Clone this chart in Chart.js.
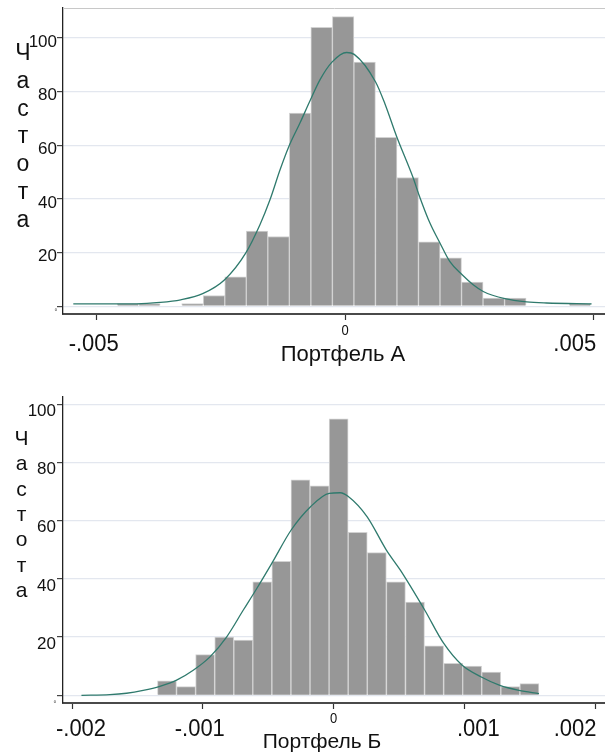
<!DOCTYPE html>
<html>
<head>
<meta charset="utf-8">
<script src="https://cdn.jsdelivr.net/npm/chart.js@4.4.0/dist/chart.umd.min.js"></script>
<style>
  html, body { margin: 0; padding: 0; background: #fff; }
  #wrap { position: relative; width: 605px; height: 753px; }
  #chartA { position: absolute; left: 0; top: 0; }
  #chartB { position: absolute; left: 0; top: 376px; }
</style>
</head>
<body>
<div id="wrap">
  <canvas id="chartA" width="605" height="376"></canvas>
  <canvas id="chartB" width="605" height="377"></canvas>
</div>
<script>
// Портфель А - bin centres and counts
const binsA = [-0.004372, -0.003939, -0.003506, -0.003073, -0.002640, -0.002207,
  -0.001774, -0.001341, -0.000908, -0.000475, -0.000042, 0.000391, 0.000824,
  0.001257, 0.001690, 0.002123, 0.002556, 0.002989, 0.003422, 0.003855,
  0.004288, 0.004721];
const countsA = [1, 1, 0, 1, 4, 11, 28, 26, 72, 104, 108, 91, 63, 48, 24, 18, 9, 3, 3, 0, 0, 1];
// normal curve
const curveXA = [-0.005471, -0.004733, -0.004196, -0.003727, -0.003311, -0.002868,
  -0.002426, -0.002003, -0.001716, -0.001514, -0.001313, -0.001138, -0.000911,
  -0.000704, -0.000509, -0.000267, 0.000028, 0.000181, 0.000611, 0.000798,
  0.001034, 0.001368, 0.001482, 0.001704, 0.001905, 0.002106, 0.002347,
  0.002574, 0.002776, 0.003212, 0.003648, 0.004051, 0.004956];
const curveYA = [0.9, 0.9, 0.9, 1.4, 2.4, 4.7, 9.9, 19.8, 30.4, 39.7, 50.8, 59.4, 68.3,
  76.8, 84.4, 91.0, 94.6, 93.9, 83.6, 75.5, 63.3, 47.8, 41.6, 31.0, 23.6, 16.6, 11.8,
  8.0, 5.5, 2.8, 1.6, 1.2, 0.9];
const xTicksA = [-0.005, 0, 0.005];
const xLabelsA = ['-.005', '0', '.005'];

// Портфель Б
const binsB = [-0.001274, -0.001128, -0.000982, -0.000836, -0.000690, -0.000545,
  -0.000399, -0.000253, -0.000107, 0.000039, 0.000185, 0.000331, 0.000477,
  0.000623, 0.000769, 0.000915, 0.001060, 0.001206, 0.001352, 0.001498];
const countsB = [5, 3, 14, 20, 19, 39, 46, 74, 72, 95, 56, 49, 39, 32, 17, 11, 10, 8, 3, 4];
const curveXB = [-0.001928, -0.001711, -0.001583, -0.001456, -0.001328, -0.001200,
  -0.001073, -0.000945, -0.000817, -0.000690, -0.000587, -0.000470, -0.000324,
  -0.000176, -0.000033, 0.000051, 0.000113, 0.000256, 0.000404, 0.000511,
  0.000697, 0.000843, 0.000984, 0.001130, 0.001272, 0.001418, 0.001571];
const curveYB = [0, 0.2, 0.7, 1.7, 3.1, 5.2, 8.6, 13.2, 20.1, 29.3, 36.7, 45.5, 56.8,
  64.8, 69.4, 69.6, 68.3, 61.4, 49.9, 43.0, 29.3, 17.8, 10.3, 6.3, 3.4, 1.7, 0.6];
const xTicksB = [-0.002, -0.001, 0, 0.001, 0.002];
const xLabelsB = ['-.002', '-.001', '0', '.001', '.002'];

const yTicks = [0, 20, 40, 60, 80, 100];
const yTitle = 'Частота';

const FONT = "'Liberation Sans', Arial, sans-serif";
const BAR_FILL = '#979797';
const BAR_EDGE = '#d2d2d2';
const CURVE = '#2f7a6d';

// draws x tick labels, x title and the stacked y title
function textPlugin(cfg) {
  return {
    id: 'text' + cfg.id,
    afterDraw(chart) {
      const ctx = chart.ctx;
      const xs = chart.scales.x;
      ctx.save();
      ctx.fillStyle = '#111';
      ctx.textAlign = 'center';
      ctx.textBaseline = 'alphabetic';
      cfg.ticks.forEach((v, i) => {
        const zero = cfg.labels[i] === '0';
        ctx.save();
        ctx.translate(xs.getPixelForValue(v) + cfg.dx[i], zero ? cfg.zeroBase : cfg.tickBase);
        ctx.scale(1, 1.12);  // tick text in the picture is a bit taller than wide
        ctx.font = (zero ? 13 : cfg.tickSize) + 'px ' + FONT;
        ctx.fillText(cfg.labels[i], 0, 0);
        ctx.restore();
      });
      ctx.font = cfg.titleSize + 'px ' + FONT;
      ctx.fillText(cfg.title, cfg.titleX, cfg.titleBase);
      ctx.font = cfg.ySize + 'px ' + FONT;
      Array.from(yTitle).forEach((ch, i) => {
        ctx.fillText(ch, cfg.yX, cfg.yBase + i * cfg.yStep);
      });
      ctx.restore();
    }
  };
}

function makeChart(el, o) {
  const scales = {
    x: {
      type: 'linear',
      offset: false,
      min: o.xMin, max: o.xMax,
      afterBuildTicks: s => { s.ticks = o.xTicks.map(v => ({ value: v })); },
      afterFit: s => { s.height = o.xHeight; s.paddingLeft = 0; s.paddingRight = 0; },
      ticks: { display: false },
      grid: { offset: false, drawOnChartArea: false, drawTicks: true, tickLength: 6, tickColor: '#333', tickWidth: 1.2 },
      border: { color: '#4a4a4a', width: 2 }
    },
    y: {
      min: o.yMin, max: o.yMax,
      afterBuildTicks: s => { s.ticks = yTicks.map(v => ({ value: v })); },
      afterFit: s => { s.width = 63; s.paddingTop = 0; s.paddingBottom = 0; },
      ticks: {
        color: '#111',
        padding: o.yPad,
        labelOffset: o.yLabelOffset,
        font: c => ({ family: FONT, size: c.tick && c.tick.value === 0 ? 4 : 17 })
      },
      grid: { color: '#e3e7ef', lineWidth: 1.2, tickColor: '#444', tickLength: 6 },
      border: { color: '#222', width: 1.3 }
    }
  };
  if (o.topBorder) {
    scales.x2 = {
      type: 'linear', position: 'top', offset: false,
      min: o.xMin, max: o.xMax,
      ticks: { display: false },
      grid: { offset: false, drawOnChartArea: false, drawTicks: false },
      border: { color: '#c8c8c8', width: 1 }
    };
  }
  return new Chart(el, {
    type: 'bar',
    data: {
      datasets: [{
        type: 'line',
        data: o.curveX.map((x, i) => ({ x: x, y: o.curveY[i] })),
        borderColor: CURVE,
        borderWidth: 1.3,
        pointRadius: 0,
        cubicInterpolationMode: 'monotone',
        order: 0
      }, {
        type: 'bar',
        data: o.bins.map((x, i) => ({ x: x, y: o.counts[i] })),
        backgroundColor: BAR_FILL,
        borderColor: BAR_EDGE,
        borderWidth: 1,
        barPercentage: 1,
        categoryPercentage: 1,
        order: 1
      }]
    },
    options: {
      responsive: false,
      animation: false,
      layout: { padding: { top: o.padTop, left: 0, right: 0, bottom: 0 } },
      plugins: { legend: { display: false }, tooltip: { enabled: false } },
      scales: scales
    },
    plugins: [o.text]
  });
}

makeChart(document.getElementById('chartA'), {
  bins: binsA, counts: countsA, curveX: curveXA, curveY: curveYA,
  xTicks: xTicksA,
  xMin: -0.005678, xMax: 0.005226,
  yMin: -2.9, yMax: 111.2,
  padTop: 8, xHeight: 62, yPad: 0, yLabelOffset: 4,
  topBorder: true,
  text: textPlugin({
    id: 'A', ticks: xTicksA, labels: xLabelsA, dx: [-3, 0, -19],
    tickSize: 22, tickBase: 351, zeroBase: 335,
    title: 'Портфель А', titleSize: 22, titleX: 343, titleBase: 361,
    ySize: 23, yX: 23, yBase: 60, yStep: 27.8
  })
});

makeChart(document.getElementById('chartB'), {
  bins: binsB, counts: countsB, curveX: curveXB, curveY: curveYB,
  xTicks: xTicksB,
  xMin: -0.002069, xMax: 0.002076,
  yMin: -2.65, yMax: 102.5,
  padTop: 21, xHeight: 50, yPad: 1, yLabelOffset: 7,
  topBorder: false,
  text: textPlugin({
    id: 'B', ticks: xTicksB, labels: xLabelsB, dx: [9, -3, 0, 14, -20],
    tickSize: 22, tickBase: 360, zeroBase: 347,
    title: 'Портфель Б', titleSize: 21, titleX: 322, titleBase: 372,
    ySize: 21, yX: 21.5, yBase: 69, yStep: 25.3
  })
});
</script>
</body>
</html>
